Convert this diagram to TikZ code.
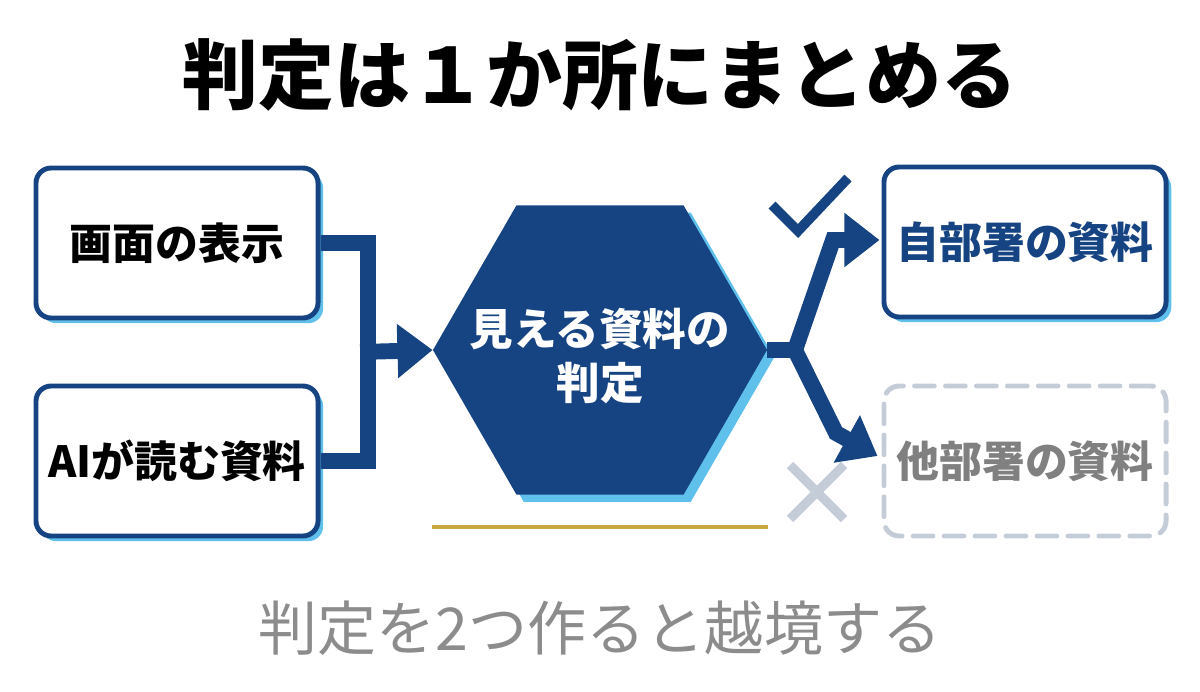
\documentclass[tikz,border=0pt]{standalone}
\usepackage{fontspec}
\newfontfamily\jp{Noto Sans CJK JP}
\usepackage{tikz}
\usetikzlibrary{arrows.meta,shapes.geometric,shadows,calc}
\definecolor{navyblue}  {RGB}{22,68,130}
\definecolor{skyline}   {RGB}{95,192,235}
\definecolor{paleslate} {RGB}{196,204,216}
\definecolor{midgray}   {RGB}{128,128,128}
\definecolor{softgray}  {RGB}{140,140,140}
\definecolor{goldline}  {RGB}{201,168,64}

\begin{document}
\begin{tikzpicture}[
  x=0.025cm, y=-0.025cm,
  every node/.style={font=\jp},
  srcbox/.style={draw=navyblue,line width=3.5pt,fill=white,rounded corners=0.38cm,
                 minimum width=7.05cm,minimum height=3.75cm,align=center,
                 font=\jp\bfseries\fontsize{30.5}{36}\selectfont,
                 drop shadow={shadow xshift=0.13cm,shadow yshift=-0.13cm,fill=skyline,opacity=1}},
  okbox/.style={srcbox,text=navyblue},
  ngbox/.style={draw=paleslate,line width=3.5pt,dash pattern=on 14pt off 8pt,line cap=round,
                rounded corners=0.38cm,minimum width=7.05cm,minimum height=3.75cm,
                font=\jp\bfseries\fontsize{30.5}{36}\selectfont,text=midgray},
  hexa/.style={regular polygon,regular polygon sides=6,minimum size=8.35cm,inner sep=0pt,
               fill=navyblue,
               drop shadow={shadow xshift=0.18cm,shadow yshift=-0.18cm,fill=skyline,opacity=1}},
  hexlabel/.style={text=white,align=center,font=\jp\bfseries\fontsize{31}{39}\selectfont},
  conn/.style={navyblue,line width=11.3pt},
  arr/.style={conn,-{Triangle[length=25pt,width=37pt]}},
]
\useasboundingbox (0,0) rectangle (1200,691);

%% ── Title ────────────────────────────────────────────────────────────────
\node[font=\jp\bfseries\fontsize{54}{60}\selectfont] (title) at (600,75)
  {判定は１か所にまとめる};

%% ── Sources ──────────────────────────────────────────────────────────────
\node[srcbox] (screen) at (177,243) {画面の表示};
\node[srcbox] (airead) at (177,461) {AIが読む資料};

%% ── Single judgement ─────────────────────────────────────────────────────
\node[hexa] (judge) at (600,350) {};
\node[hexlabel] (judgetext) at (600,356) {見える資料の\\判定};

%% ── Targets ──────────────────────────────────────────────────────────────
\node[okbox] (own)   at (1025,242) {自部署の資料};
\node[ngbox] (other) at (1025,461) {他部署の資料};

%% Connections in
\coordinate (join) at (368,352);
\draw[conn] (screen.east) -| (join);
\draw[conn] (airead.east) -| (join);
\draw[arr]  ([xshift=-5.6pt]join) -- (judge.west);

%% Connections out
\coordinate (fork) at (795,350);
\draw[conn] (judge.east) -- (fork);
\draw[arr,line join=miter] (fork) -- (833,240) -- ($(own.west)+(-2,-2)$);
\draw[arr,line join=miter] (fork) -- (836,433) -- ($(other.west)+(-4,-5)$);

%% Marks
\draw[navyblue,line width=7pt] (772,205) -- (798,231) -- (848,178);
\draw[paleslate,line width=6.5pt] (790,465) -- (844,519) (844,465) -- (790,519);

%% Underline
\draw[goldline,line width=3.5pt] (432,527) -- (768,527);

%% ── Caption ──────────────────────────────────────────────────────────────
\node[text=softgray,font=\jp\fontsize{42}{48}\selectfont] (caption) at (600,628)
  {判定を2つ作ると越境する};

\end{tikzpicture}
\end{document}
